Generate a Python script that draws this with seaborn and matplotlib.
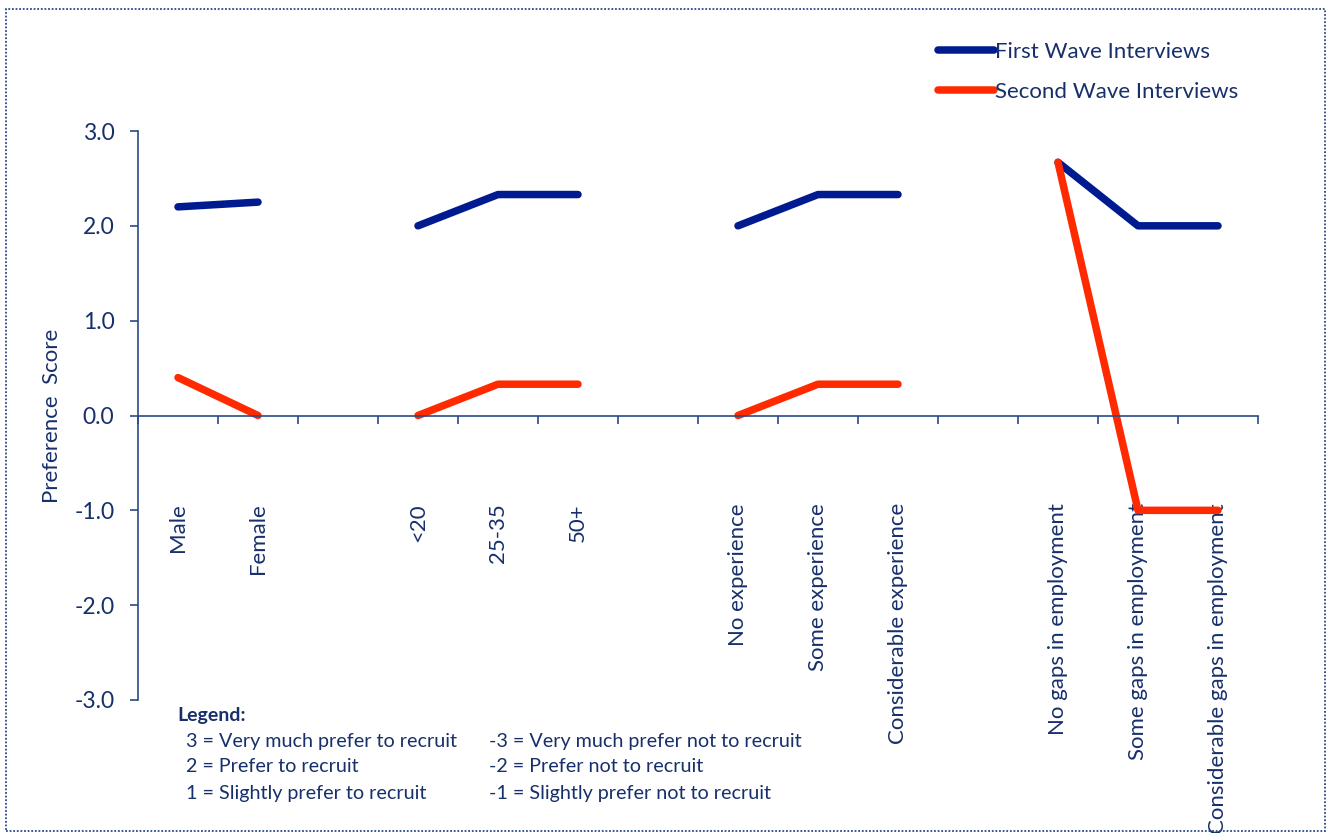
import numpy as np
import pandas as pd
import matplotlib
matplotlib.use("Agg")
import matplotlib.pyplot as plt
import matplotlib.patches as mpatches
from matplotlib.lines import Line2D
from matplotlib.ticker import FixedLocator, FormatStrFormatter
import seaborn as sns

# ---- data ----
categories = ["Male", "Female", "",
              "<20", "25-35", "50+", "",
              "No experience", "Some experience", "Considerable experience", "",
              "No gaps in employment", "Some gaps in employment",
              "Considerable gaps in employment"]
groups = ["Gender", "Gender", None,
          "Age", "Age", "Age", None,
          "Experience", "Experience", "Experience", None,
          "Gaps", "Gaps", "Gaps"]
first_wave = [2.2, 2.25, np.nan, 2.0, 2.33, 2.33, np.nan,
              2.0, 2.33, 2.33, np.nan, 2.67, 2.0, 2.0]
second_wave = [0.4, 0.0, np.nan, 0.0, 0.33, 0.33, np.nan,
               0.0, 0.33, 0.33, np.nan, 2.67, -1.0, -1.0]
series_names = ["First Wave Interviews", "Second Wave Interviews"]
y_ticks = [-3.0, -2.0, -1.0, 0.0, 1.0, 2.0, 3.0]
legend_title = "Legend:"
legend_left = ["3 = Very much prefer to recruit", "2 = Prefer to recruit",
               "1 = Slightly prefer to recruit"]
legend_right = ["-3 = Very much prefer not to recruit", "-2 = Prefer not to recruit",
                "-1 = Slightly prefer not to recruit"]

rows = []
for i, (cat, g) in enumerate(zip(categories, groups)):
    if g is None:
        continue
    rows.append(dict(pos=i, category=cat, group=g, wave=series_names[0], score=first_wave[i]))
    rows.append(dict(pos=i, category=cat, group=g, wave=series_names[1], score=second_wave[i]))
df = pd.DataFrame(rows)

# ---- style ----
sns.set_style("white")
plt.rcParams["font.family"] = ["Lato", "DejaVu Sans"]
TXT = "#17306B"
NAVY = "#001A8F"
RED = "#FF2A00"
AX = "#2B4A86"

W, H = 1331, 833
fig = plt.figure(figsize=(W / 100, H / 100), dpi=100)

def fx(x):
    return x / W

def fy(y):
    return 1 - y / H

ax = fig.add_axes([fx(138), fy(700), fx(1258) - fx(138), (700 - 131) / H])

sns.lineplot(data=df, x="pos", y="score", hue="wave", units="group",
             estimator=None, palette=[NAVY, RED], linewidth=5.4,
             legend=False, ax=ax, sort=False)
for ln in ax.lines:
    ln.set_solid_capstyle("round")
    ln.set_solid_joinstyle("round")

ax.set_xlim(-0.5, len(categories) - 0.5)
ax.set_ylim(-3, 3)

# spines
for s in ["top", "right"]:
    ax.spines[s].set_visible(False)
ax.spines["left"].set_color(AX)
ax.spines["bottom"].set_color(AX)
ax.spines["left"].set_linewidth(1.2)
ax.spines["bottom"].set_linewidth(1.2)
ax.spines["bottom"].set_position(("data", 0))

# y ticks
ax.yaxis.set_major_locator(FixedLocator(y_ticks))
ax.yaxis.set_major_formatter(FormatStrFormatter("%.1f"))
ax.tick_params(axis="y", left=True, direction="out", length=6, width=1.2, color=AX,
               labelsize=16.5, labelcolor=TXT, pad=11)

# x ticks: labels at centers, tick marks at boundaries
ax.set_xticks(np.arange(len(categories)))
ax.set_xticklabels(categories, rotation=90, va="top", ha="center")
ax.set_xticks(np.arange(len(categories) + 1) - 0.5, minor=True)
ax.tick_params(axis="x", which="major", bottom=True, length=0, labelsize=16,
               labelcolor=TXT, pad=63)
ax.tick_params(axis="x", which="minor", bottom=True, direction="out", length=6,
               width=1.2, color=AX)

ax.set_xlabel("")
ax.set_ylabel("Preference  Score", fontsize=16, color=TXT)
ax.yaxis.set_label_coords(-0.068, 0.5)

# series legend
handles = [Line2D([0], [0], color=NAVY, lw=5.4, solid_capstyle="round"),
           Line2D([0], [0], color=RED, lw=5.4, solid_capstyle="round")]
leg = fig.legend(handles, series_names, loc="upper left",
                 bbox_to_anchor=(fx(938), fy(42)), bbox_transform=fig.transFigure,
                 frameon=False, fontsize=16, handlelength=2.5, handletextpad=0.05,
                 labelspacing=0.9, borderpad=0, borderaxespad=0)
for t in leg.get_texts():
    t.set_color(TXT)

# scale legend text
fig.text(fx(177), fy(716), legend_title, fontsize=14, fontweight="bold",
         color=TXT, va="center", ha="left")
for k, (l, r) in enumerate(zip(legend_left, legend_right)):
    yy = fy(741 + 26 * k)
    fig.text(fx(186), yy, l, fontsize=14.2, color=TXT, va="center", ha="left")
    fig.text(fx(489), yy, r, fontsize=14.2, color=TXT, va="center", ha="left")

# dotted border
border = mpatches.Rectangle((fx(6), fy(831)), fx(1325) - fx(6), (831 - 9) / H,
                            transform=fig.transFigure, fill=False,
                            edgecolor=AX, linestyle=(0, (1, 1)), linewidth=1.3)
fig.patches.append(border)

fig.savefig("out.png", dpi=100)
